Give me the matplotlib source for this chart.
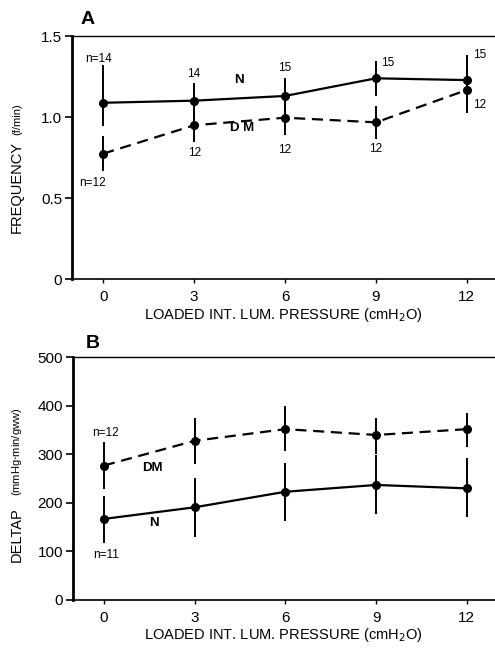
import matplotlib
matplotlib.use("Agg")
import matplotlib.pyplot as plt
import numpy as np

plt.rcParams['font.family'] = ['Liberation Sans Narrow', 'Liberation Sans', 'DejaVu Sans']

W, H = 495, 648

pressure = [0, 3, 6, 9, 12]

# panel A - frequency (f/min)
freq_n = [1.088, 1.101, 1.130, 1.239, 1.228]
freq_n_lo = [0.944, 0.99, 1.02, 1.13, 1.09]
freq_n_hi = [1.321, 1.212, 1.239, 1.348, 1.383]
freq_dm = [0.774, 0.949, 0.996, 0.967, 1.167]
freq_dm_lo = [0.667, 0.844, 0.889, 0.862, 1.027]
freq_dm_hi = [0.885, 1.054, 1.10, 1.07, 1.30]

# panel B - deltap (mmHg.min/gww)
dp_n = [167, 191, 223, 237, 230]
dp_n_lo = [118, 130, 163, 177, 170]
dp_n_hi = [214, 251, 283, 299, 292]
dp_dm = [277, 328, 352, 340, 352]
dp_dm_lo = [228, 280, 306, 300, 316]
dp_dm_hi = [325, 374, 400, 374, 386]


def errs(mean, lo, hi):
	mean = np.array(mean)
	return [mean - np.array(lo), np.array(hi) - mean]


def ftext(px, py, s, **kw):
	# place text by pixel position from the top-left corner
	fig.text(px / W, 1 - py / H, s, ha='center', va='center',
		family=['Liberation Sans', 'DejaVu Sans'], **kw)


def style_axes(ax, ymax, yticks, yticklabels):
	ax.set_xlim(-1.03, 12.93)
	ax.set_ylim(0, ymax)
	ax.set_xticks(pressure)
	ax.set_xticklabels([str(p) for p in pressure], fontsize=11)
	ax.set_yticks(yticks)
	ax.set_yticklabels(yticklabels, fontsize=11)
	ax.spines['right'].set_visible(False)
	ax.spines['left'].set_linewidth(2)
	ax.spines['bottom'].set_linewidth(1.2)
	ax.spines['top'].set_linewidth(1)
	ax.tick_params(axis='y', direction='out', length=5, width=1.2, pad=2)
	ax.tick_params(axis='x', direction='out', length=3, width=1, pad=5)
	ax.set_xlabel('LOADED INT. LUM. PRESSURE (cmH$_2$O)', fontsize=10.5,
		family=['Liberation Sans', 'DejaVu Sans'], labelpad=1)


def draw(ax, mean_n, err_n, mean_dm, err_dm):
	ax.errorbar(pressure, mean_n, yerr=err_n, color='black', lw=1.6, elinewidth=1.4,
		marker='o', ms=5.5, capsize=0)
	ax.errorbar(pressure, mean_dm, yerr=err_dm, color='black', lw=1.6, elinewidth=1.4,
		marker='o', ms=5.5, capsize=0, linestyle=(0, (5, 3)))


fig = plt.figure(figsize=(W / 100, H / 100), dpi=100)

axA = fig.add_axes([0.1455, 0.5694, 0.8545, 0.375])
draw(axA, freq_n, errs(freq_n, freq_n_lo, freq_n_hi), freq_dm, errs(freq_dm, freq_dm_lo, freq_dm_hi))
style_axes(axA, 1.5, [0, 0.5, 1.0, 1.5], ['0', '0.5', '1.0', '1.5'])
ftext(88, 19, 'A', fontsize=14, fontweight='bold')
ftext(17, 187, 'FREQUENCY', rotation=90, fontsize=10.5)
ftext(17, 119, '(f/min)', rotation=90, fontsize=8)

nsz = 8.5
axA.text(-0.15, 1.36, 'n=14', fontsize=nsz, ha='center', va='center')
axA.text(3, 1.265, '14', fontsize=nsz, ha='center', va='center')
axA.text(6, 1.30, '15', fontsize=nsz, ha='center', va='center')
axA.text(9.4, 1.335, '15', fontsize=nsz, ha='center', va='center')
axA.text(12.43, 1.38, '15', fontsize=nsz, ha='center', va='center')
axA.text(-0.35, 0.595, 'n=12', fontsize=nsz, ha='center', va='center')
axA.text(3, 0.78, '12', fontsize=nsz, ha='center', va='center')
axA.text(6, 0.796, '12', fontsize=nsz, ha='center', va='center')
axA.text(9, 0.80, '12', fontsize=nsz, ha='center', va='center')
axA.text(12.42, 1.074, '12', fontsize=nsz, ha='center', va='center')
axA.text(4.47, 1.228, 'N', fontsize=9.5, fontweight='bold', ha='center', va='center')
axA.text(4.58, 0.934, 'D M', fontsize=9.5, fontweight='bold', ha='center', va='center')

axB = fig.add_axes([0.147, 0.0741, 0.853, 0.3745])
draw(axB, dp_n, errs(dp_n, dp_n_lo, dp_n_hi), dp_dm, errs(dp_dm, dp_dm_lo, dp_dm_hi))
style_axes(axB, 500, [0, 100, 200, 300, 400, 500], ['0', '100', '200', '300', '400', '500'])
ftext(93, 343, 'B', fontsize=14, fontweight='bold')
ftext(17, 535, 'DELTAP', rotation=90, fontsize=10.5)
ftext(17, 452, '(mmHg$\\cdot$min/gww)', rotation=90, fontsize=8)
axB.text(0.05, 345, 'n=12', fontsize=nsz, ha='center', va='center')
axB.text(0.07, 93, 'n=11', fontsize=nsz, ha='center', va='center')
axB.text(1.61, 271, 'DM', fontsize=9.5, fontweight='bold', ha='center', va='center')
axB.text(1.65, 158, 'N', fontsize=9.5, fontweight='bold', ha='center', va='center')

fig.savefig('out.png', dpi=100)
